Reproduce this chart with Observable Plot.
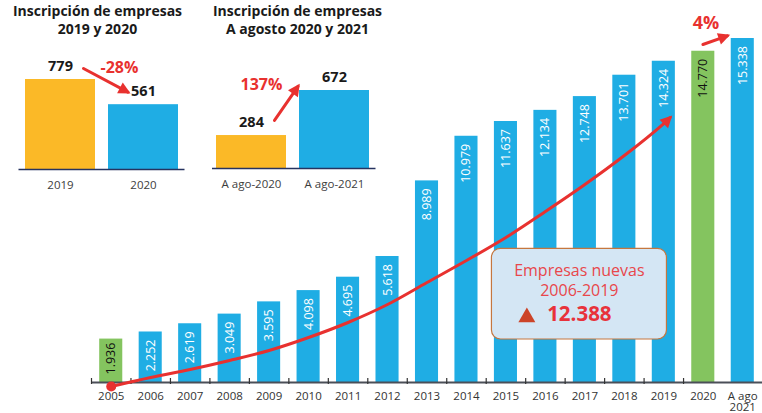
<!DOCTYPE html>
<html><head><meta charset="utf-8">
<script src="https://cdn.jsdelivr.net/npm/d3@7"></script>
<script src="https://cdn.jsdelivr.net/npm/@observablehq/plot@0.6"></script>
<style>
body{margin:0;background:#fff;font-family:"Open Sans",sans-serif;}
#wrap{position:relative;width:762px;height:413px;overflow:hidden;background:#fff}
#wrap > div{position:absolute}
.ttl{font-weight:700;font-size:14px;line-height:18.5px;color:#1a1a1a;text-align:center;width:190px;white-space:nowrap}
</style></head><body>
<div id="wrap">
  <div id="main" style="left:0;top:0;width:762px;height:413px"></div>
  <div id="in1" style="left:0;top:0;width:200px;height:200px"></div>
  <div id="in2" style="left:200px;top:0;width:200px;height:200px"></div>
  <div class="ttl" style="left:2.5px;top:1.5px">Inscripción de empresas<br>2019 y 2020</div>
  <div class="ttl" style="left:202.5px;top:1.5px">Inscripción de empresas<br>A agosto 2020 y 2021</div>
</div>
<script>
// ---- data ----
const years = ["2005","2006","2007","2008","2009","2010","2011","2012","2013","2014","2015","2016","2017","2018","2019","2020","A ago\n2021"];
const empresas = [1936,2252,2619,3049,3595,4098,4695,5618,8989,10979,11637,12134,12748,13701,14324,14770,15338];
const highlighted = ["2005","2020"];
const inset1Cats = ["2019","2020"];
const inset1Vals = [779,561];
const inset2Cats = ["A ago-2020","A ago-2021"];
const inset2Vals = [284,672];
// red trend curve (position in year slots, value)
const trendPos  = [0,1,2,3,4,5,6,7,8,9,10,11,12,13,14,14.16];
const trendVals = [-178,223,580,981,1427,2006,2675,3477,4458,5439,6465,7624,8828,10120,11547,11814];

// ---- styles ----
const RED="#e8312f", BLUE="#1fade4", GREEN="#84c45f", YELLOW="#fbb927";
const FONT='"Open Sans", sans-serif';
const fmt = d3.formatLocale({decimal:",",thousands:".",grouping:[3],currency:["",""]}).format(",d");

function fillMarkers(svg){
  svg.querySelectorAll("marker").forEach(m=>{
    m.setAttribute("fill", RED); m.setAttribute("stroke","none");
    const p = m.querySelector("path"); if (p) p.setAttribute("d","M-4.5,-3L1.5,0L-4.5,3Z");
  });
  return svg;
}

const rows = years.map((label,i)=>({i,label,value:empresas[i],hl:highlighted.includes(label)}));
const tickPos = years.slice(0,-1).map((_,i)=>i-0.5);
const trend = trendPos.map((x,k)=>({x,y:trendVals[k]}));

const main = Plot.plot({
  width:762, height:413, marginLeft:91, marginRight:0, marginTop:38, marginBottom:31,
  style:{fontFamily:FONT, background:"transparent", overflow:"visible"},
  x:{type:"linear", domain:[-0.5, years.length-0.5], axis:null},
  y:{domain:[0, d3.max(empresas)], axis:null},
  marks:[
    Plot.rect(rows.filter(d=>!d.hl),{x1:d=>d.i-0.5,x2:d=>d.i+0.5,y1:0,y2:"value",insetLeft:8.2,insetRight:8.2,fill:BLUE}),
    Plot.rect(rows.filter(d=>d.hl),{x1:d=>d.i-0.5,x2:d=>d.i+0.5,y1:0,y2:"value",insetLeft:8.2,insetRight:8.2,fill:GREEN}),
    Plot.ruleY([0],{stroke:"#4b4f58",strokeWidth:2}),
    Plot.ruleX(tickPos,{y1:0,y2:0,insetTop:-4,insetBottom:-2,stroke:"#333",strokeWidth:1.2}),
    Plot.axisX(d3.range(years.length),{tickFormat:i=>years[i],tickSize:0,tickPadding:9.5,fontSize:11.5,fill:"#333",lineHeight:0.98,label:null}),
    Plot.text(rows.filter(d=>!d.hl),{x:"i",y:"value",text:d=>fmt(d.value),rotate:-90,textAnchor:"end",dy:7.5,fill:"#fff",fontSize:12.5}),
    Plot.text(rows.filter(d=>d.hl && d.i>0),{x:"i",y:"value",text:d=>fmt(d.value),rotate:-90,textAnchor:"end",dy:7.5,fill:"#111",fontSize:12.5}),
    Plot.text(rows.filter(d=>d.i===0),{x:"i",y:"value",text:d=>fmt(d.value),rotate:-90,textAnchor:"end",dy:3.5,fill:"#111",fontSize:12.5}),
    Plot.line(trend,{x:"x",y:"y",curve:"catmull-rom",stroke:RED,strokeWidth:3,markerEnd:"arrow"}),
    Plot.dot(trend.slice(0,1),{x:"x",y:"y",r:5,fill:RED}),
    Plot.line([[14.99,15069],[15.61,15458]],{stroke:RED,strokeWidth:3,markerEnd:"arrow"}),
    Plot.text(["4%"],{x:15.07,y:16028,text:d=>d,fill:RED,fontSize:18,fontWeight:700}),
    Plot.rect([0],{x1:9.645,x2:14.079,y1:1917,y2:5961,rx:9,fill:"#d4e6f4",stroke:"#c5773f",strokeWidth:1.2}),
    Plot.text(["Empresas nuevas"],{x:11.86,y:4993,text:d=>d,fill:"#e8474b",fontSize:16}),
    Plot.text(["2006-2019"],{x:11.86,y:4090,text:d=>d,fill:"#e8474b",fontSize:16}),
    Plot.dot([0],{x:10.53,y:2907,symbol:"triangle",r:6.3,fill:"#cc4428"}),
    Plot.text([fmt(12388)],{x:11.86,y:3020,text:d=>d,fill:"#e8323a",fontSize:20.5,fontWeight:700})
  ]
});
document.getElementById("main").append(fillMarkers(main));

function inset(cats, vals, o){
  const r = cats.map((c,i)=>({i,c,v:vals[i]}));
  return fillMarkers(Plot.plot({
    width:200, height:200, marginLeft:o.ml, marginRight:o.mr, marginTop:o.mt, marginBottom:o.mb,
    style:{fontFamily:FONT, background:"transparent", overflow:"visible"},
    x:{type:"linear", domain:[-0.5,1.5], axis:null},
    y:{domain:[0,d3.max(vals)], axis:null},
    marks:[
      Plot.rect(r.slice(0,1),{x1:d=>d.i-0.5,x2:d=>d.i+0.5,y1:0,y2:"v",insetLeft:6.5,insetRight:6.5,fill:YELLOW}),
      Plot.rect(r.slice(1),{x1:d=>d.i-0.5,x2:d=>d.i+0.5,y1:0,y2:"v",insetLeft:6.5,insetRight:6.5,fill:BLUE}),
      Plot.ruleY([0],{stroke:"#26335f",strokeWidth:1.5,insetLeft:o.il,insetRight:o.ir}),
      Plot.axisX([0,1],{tickFormat:i=>cats[i],tickSize:0,tickPadding:11,fontSize:11.5,fill:"#3d3d3d",label:null}),
      Plot.text(r,{x:"i",y:"v",text:d=>fmt(d.v),dy:-13,fontSize:14.5,fontWeight:700,fill:"#1a1a1a"}),
      Plot.line(o.arrow,{stroke:RED,strokeWidth:3,markerEnd:"arrow"}),
      Plot.text([o.pct],{x:o.px,y:o.py,text:d=>d,fill:RED,fontSize:16,fontWeight:700})
    ]
  }));
}
document.getElementById("in1").append(inset(inset1Cats, inset1Vals,
  {ml:18.5,mr:15.5,mt:79,mb:31,il:0,ir:0,arrow:[[0.277,874],[0.812,670]],pct:"-28%",px:0.71,py:878}));
document.getElementById("in2").append(inset(inset2Cats, inset2Vals,
  {ml:9.5,mr:24.5,mt:90,mb:32,il:2.5,ir:0,arrow:[[0.277,414],[0.561,708]],pct:"137%",px:0.12,py:720}));
</script>
</body></html>
